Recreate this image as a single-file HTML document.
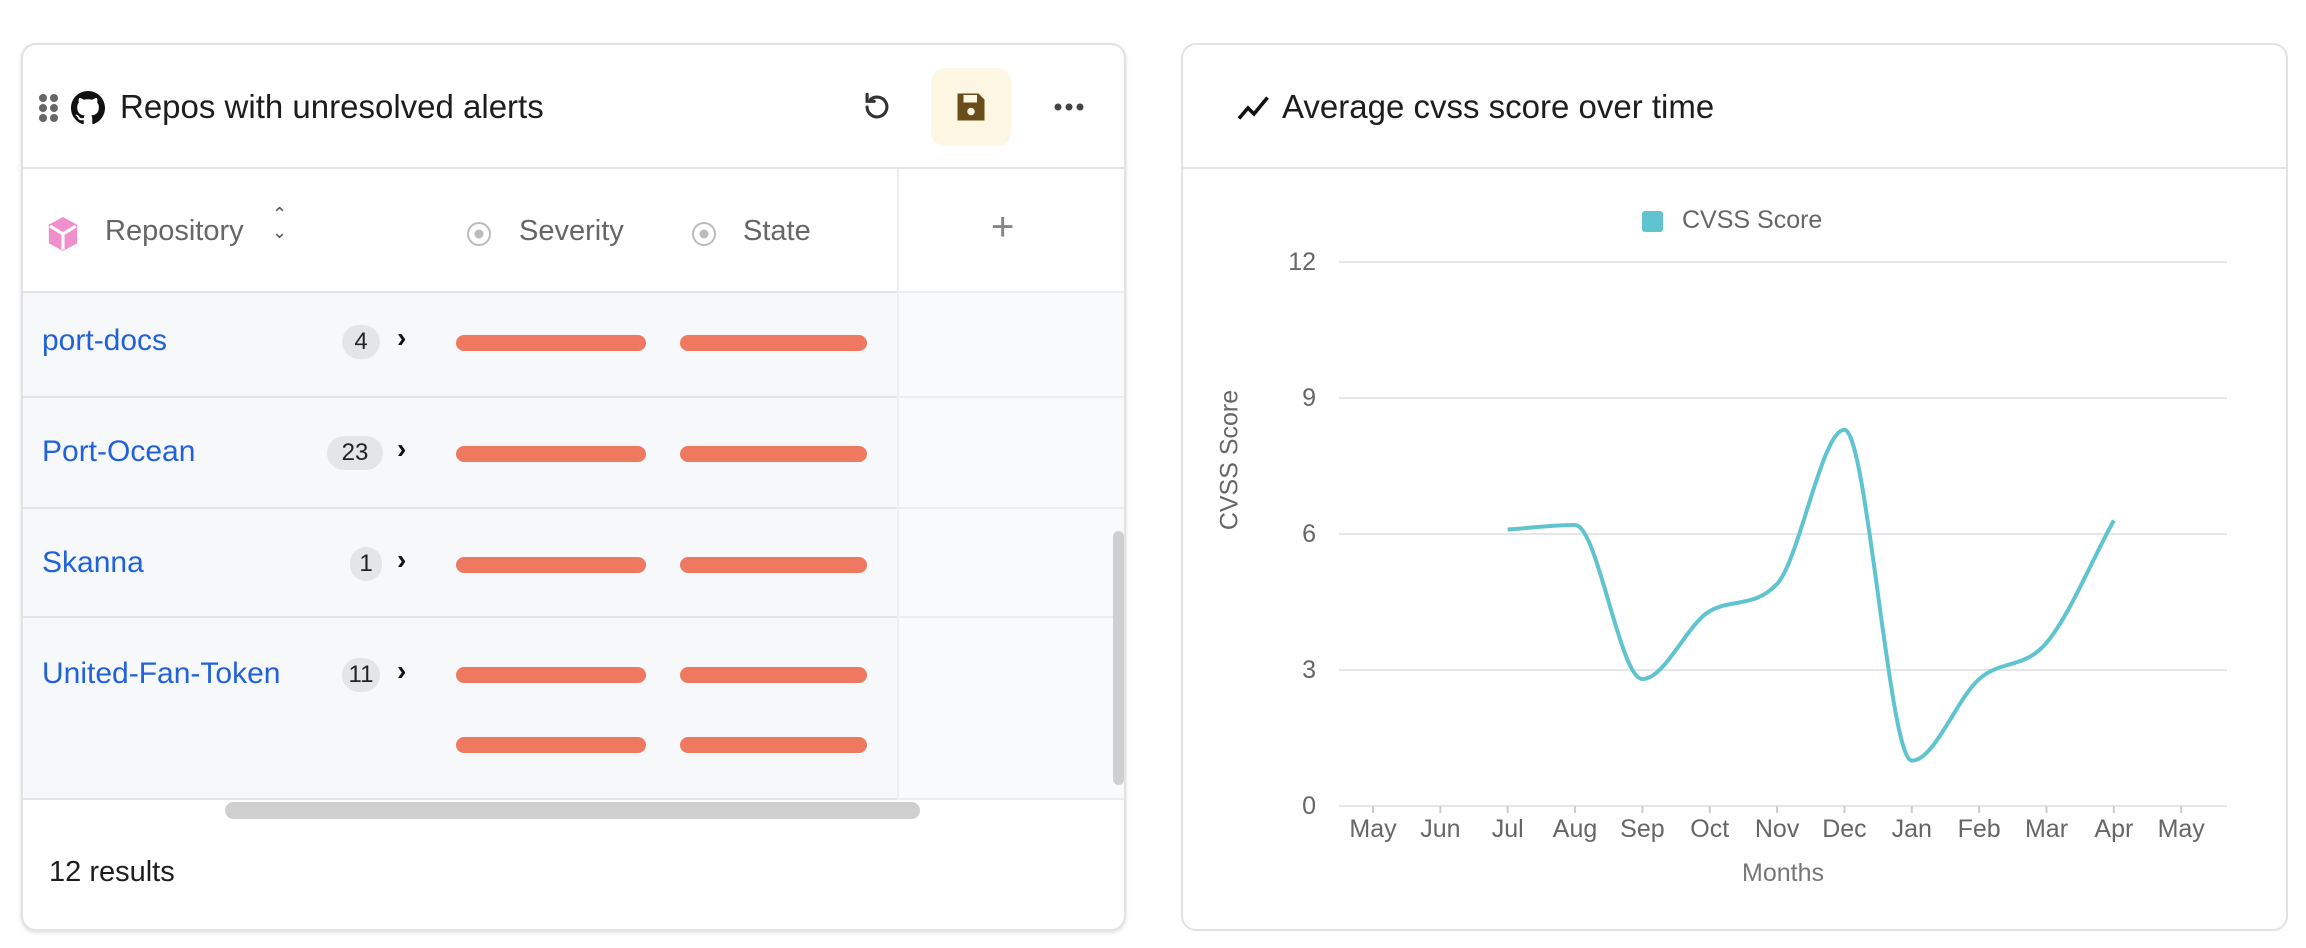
<!DOCTYPE html>
<html><head><meta charset="utf-8"><style>
*{box-sizing:border-box;margin:0;padding:0}
body{width:2306px;height:948px;background:#fff;font-family:"Liberation Sans",sans-serif;position:relative;overflow:hidden}
.card{position:absolute;border:2px solid #e2e2e2;border-radius:15px;background:#fff;overflow:hidden}
.abs{position:absolute}
.hdr{position:absolute;left:0;right:0;top:0;height:124px;border-bottom:2px solid #e4e4e4}
.title{position:absolute;font-size:33px;color:#1d1d1f;top:84px;line-height:44px}
.row{position:absolute;left:0;width:1110px;background:#f6f8fa;border-bottom:2px solid #e2e4e7}
.name{position:absolute;left:19px;font-size:30px;color:#2161d9}
.badge{position:absolute;height:34px;border-radius:17px;background:#e3e6e8;font-size:24px;color:#222;text-align:center;line-height:34px}
.bar{position:absolute;height:16px;border-radius:8px;background:#ee7860}
.chev{position:absolute;font-size:28px;color:#111;font-weight:bold}
.ylab{position:absolute;font-size:25px;color:#666;text-align:right;width:40px}
.xlab{position:absolute;font-size:25px;color:#666;width:80px;text-align:center;margin-left:-40px}
</style></head><body>

<div class="card" style="left:21px;top:43px;width:1105px;height:888px;box-shadow:0 2px 4px rgba(0,0,0,0.12)">
  <div class="hdr"></div>
  <svg class="abs" style="left:15px;top:48px" width="24" height="30"><g fill="#666"><circle cx="5" cy="5" r="4"/><circle cx="16" cy="5" r="4"/><circle cx="5" cy="15" r="4"/><circle cx="16" cy="15" r="4"/><circle cx="5" cy="25" r="4"/><circle cx="16" cy="25" r="4"/></g></svg>
  <svg class="abs" style="left:48px;top:46px" width="34" height="34" viewBox="0 0 16 16"><path fill="#111" d="M8 0C3.58 0 0 3.580 0 8c0 3.54 2.29 6.53 5.47 7.59.4.07.55-.17.55-.38 0-.19-.01-.82-.01-1.49-2.010.37-2.53-.49-2.69-.94-.09-.23-.48-.94-.82-1.13-.28-.15-.68-.52-.01-.53.63-.01 1.08.58 1.23.82.72 1.21 1.87.87 2.33.66.07-.52.28-.87.51-1.07-1.78-.2-3.64-.89-3.64-3.95 0-.87.31-1.59.82-2.15-.08-.2-.36-1.02.08-2.12 0 0 .67-.21 2.2.82.64-.18 1.32-.27 2-.27.68 0 1.36.09 2 .27 1.53-1.04 2.2-.82 2.2-.82.44 1.1.16 1.92.08 2.12.51.56.82 1.27.82 2.15 0 3.07-1.87 3.75-3.65 3.95.29.25.54.73.54 1.48 0 1.07-.01 1.93-.01 2.2 0 .21.15.46.55.38A8.013 8.013 0 0016 8c0-4.42-3.58-8-8-8z"/></svg>
  <div class="title" style="left:97px;top:40px">Repos with unresolved alerts</div>
  <svg class="abs" style="left:837px;top:45px" width="34" height="34" viewBox="0 0 24 24"><path d="M5 12a7 7 0 1 0 2.5-5.4M5 3v5h5" fill="none" stroke="#333" stroke-width="2.2" stroke-linecap="round"/></svg>
  <div class="abs" style="left:908px;top:23px;width:80px;height:78px;border-radius:14px;background:#fdf6e2"></div>
  <svg class="abs" style="left:930px;top:44px" width="36" height="36" viewBox="0 0 24 24"><path d="M3 3h14l4 4v14H3z" fill="#6b4d1a"/><rect x="7" y="4" width="9" height="5" fill="#fdf6e2"/><circle cx="12" cy="15" r="2.5" fill="#fdf6e2"/></svg>
  <svg class="abs" style="left:1030px;top:56px" width="34" height="12"><g fill="#444"><circle cx="5" cy="6" r="3.5"/><circle cx="16" cy="6" r="3.5"/><circle cx="27" cy="6" r="3.5"/></g></svg>

  <svg class="abs" style="left:23px;top:170px" width="34" height="38" viewBox="0 0 24 26"><path d="M12 1l10 5.5v13L12 25 2 19.5v-13z" fill="#ef8fcc"/><path d="M12 13v11M12 13L3 7.5M12 13l9-5.5" stroke="#fff" stroke-width="2.2" fill="none"/></svg>
  <div class="abs" style="left:82px;top:170px;font-size:29px;color:#666">Repository</div>
  <div class="abs" style="left:249px;top:160px;font-size:18px;color:#555;line-height:18px">&#8963;<br>&#8964;</div>
  <svg class="abs" style="left:443px;top:176px" width="26" height="26"><circle cx="13" cy="13" r="11" fill="none" stroke="#bbb" stroke-width="2"/><circle cx="13" cy="13" r="4.5" fill="#bbb"/></svg>
  <div class="abs" style="left:496px;top:170px;font-size:29px;color:#666">Severity</div>
  <svg class="abs" style="left:668px;top:176px" width="26" height="26"><circle cx="13" cy="13" r="11" fill="none" stroke="#bbb" stroke-width="2"/><circle cx="13" cy="13" r="4.5" fill="#bbb"/></svg>
  <div class="abs" style="left:720px;top:170px;font-size:29px;color:#666">State</div>
  <div class="abs" style="left:968px;top:160px;font-size:40px;color:#444;font-weight:300">+</div>

  <div class="row" style="top:246px;height:107px;border-top:2px solid #e2e4e7"></div>
  <div class="row" style="top:353px;height:111px"></div>
  <div class="row" style="top:464px;height:109px"></div>
  <div class="row" style="top:573px;height:182px"></div>
  <div class="abs" style="left:874px;top:124px;width:2px;height:631px;background:#eceef0"></div>
  <div class="abs" style="left:876px;top:124px;width:250px;height:631px;background:rgba(255,255,255,0.35)"></div>

  <div class="name" style="top:279px">port-docs</div>
  <div class="badge" style="left:319px;top:280px;width:38px">4</div>
  <div class="chev" style="left:374px;top:277px">&#8250;</div>
  <div class="name" style="top:390px">Port-Ocean</div>
  <div class="badge" style="left:304px;top:391px;width:56px">23</div>
  <div class="chev" style="left:374px;top:388px">&#8250;</div>
  <div class="name" style="top:501px">Skanna</div>
  <div class="badge" style="left:327px;top:502px;width:32px">1</div>
  <div class="chev" style="left:374px;top:499px">&#8250;</div>
  <div class="name" style="top:612px">United-Fan-Token</div>
  <div class="badge" style="left:319px;top:613px;width:38px">11</div>
  <div class="chev" style="left:374px;top:610px">&#8250;</div>

  <div class="bar" style="left:433px;top:290px;width:190px"></div><div class="bar" style="left:657px;top:290px;width:187px"></div>
  <div class="bar" style="left:433px;top:401px;width:190px"></div><div class="bar" style="left:657px;top:401px;width:187px"></div>
  <div class="bar" style="left:433px;top:512px;width:190px"></div><div class="bar" style="left:657px;top:512px;width:187px"></div>
  <div class="bar" style="left:433px;top:622px;width:190px"></div><div class="bar" style="left:657px;top:622px;width:187px"></div>
  <div class="bar" style="left:433px;top:692px;width:190px"></div><div class="bar" style="left:657px;top:692px;width:187px"></div>

  <div class="abs" style="left:1090px;top:486px;width:11px;height:254px;border-radius:6px;background:#cfcfcf"></div>
  <div class="abs" style="left:202px;top:757px;width:695px;height:17px;border-radius:9px;background:#cfcfcf"></div>
  <div class="abs" style="left:26px;top:811px;font-size:29px;color:#1d1d1f">12 results</div>
</div>

<div class="card" style="left:1181px;top:43px;width:1107px;height:888px">
  <div class="hdr"></div>
  <svg class="abs" style="left:53px;top:48px" width="36" height="30" viewBox="0 0 24 20"><path d="M2 17l6-7 4 4 9-11" fill="none" stroke="#111" stroke-width="2.4"/></svg>
  <div class="title" style="left:99px;top:40px">Average cvss score over time</div>
</div>

<div class="abs" style="left:1642px;top:211px;width:21px;height:21px;border-radius:3px;background:#5fc4cf"></div>
<div class="abs" style="left:1682px;top:206px;font-size:25px;color:#666">CVSS Score</div>
<div class="abs" style="left:1230px;top:460px;transform:translate(-50%,-50%) rotate(-90deg);font-size:25px;color:#666;white-space:nowrap">CVSS Score</div>
<div class="ylab" style="left:1276px;top:248px">12</div>
<div class="ylab" style="left:1276px;top:384px">9</div>
<div class="ylab" style="left:1276px;top:520px">6</div>
<div class="ylab" style="left:1276px;top:656px">3</div>
<div class="ylab" style="left:1276px;top:792px">0</div>
<div class="abs" style="left:1783px;top:859px;transform:translateX(-50%);font-size:25px;color:#777">Months</div>
<div id="xl"></div>

<svg class="abs" style="left:0;top:0" width="2306" height="948">
<g stroke="#e6e6e6" stroke-width="2">
<line x1="1339" x2="2227" y1="262" y2="262"/><line x1="1339" x2="2227" y1="398" y2="398"/><line x1="1339" x2="2227" y1="534" y2="534"/><line x1="1339" x2="2227" y1="670" y2="670"/><line x1="1339" x2="2227" y1="806" y2="806"/>
</g>
<path id="ln" fill="none" stroke="#5fc4cf" stroke-width="4"/>
<g id="tk" stroke="#ccc" stroke-width="2"></g>
</svg>
<script>
var months=["May","Jun","Jul","Aug","Sep","Oct","Nov","Dec","Jan","Feb","Mar","Apr","May"];
var x0=1373,st=67.35,h="",t="";
months.forEach(function(m,i){var x=x0+i*st;h+='<div class="xlab" style="left:'+x+'px;top:815px">'+m+'</div>';t+='<line x1="'+x+'" x2="'+x+'" y1="806" y2="813"/>';});
document.getElementById('xl').innerHTML=h;document.getElementById('tk').innerHTML=t;
var v=[6.1,6.2,2.8,4.3,4.9,8.3,1.0,2.8,3.6,6.3];
var n=v.length,xs=[],ys=[];
for(var i=0;i<n;i++){xs.push(x0+(i+2)*st);ys.push(806-v[i]*45.33);}
// monotone cubic (Fritsch-Carlson)
var dl=[],m=[];
for(var i=0;i<n-1;i++)dl.push((ys[i+1]-ys[i])/(xs[i+1]-xs[i]));
for(var i=0;i<n;i++){
 if(i==0)m.push(dl[0]);else if(i==n-1)m.push(dl[n-2]);
 else m.push((dl[i-1]*dl[i]<=0)?0:(dl[i-1]+dl[i])/2);
}
for(var i=0;i<n-1;i++){
 if(dl[i]==0){m[i]=0;m[i+1]=0;continue;}
 var a=m[i]/dl[i],b=m[i+1]/dl[i],s=a*a+b*b;
 if(s>9){var tt=3/Math.sqrt(s);m[i]=tt*a*dl[i];m[i+1]=tt*b*dl[i];}
}
var d="M"+xs[0]+","+ys[0];
for(var i=0;i<n-1;i++){var dx=(xs[i+1]-xs[i])/3;
 d+=" C"+(xs[i]+dx)+","+(ys[i]+m[i]*dx)+" "+(xs[i+1]-dx)+","+(ys[i+1]-m[i+1]*dx)+" "+xs[i+1]+","+ys[i+1];}
document.getElementById('ln').setAttribute('d',d);
</script>
</body></html>
